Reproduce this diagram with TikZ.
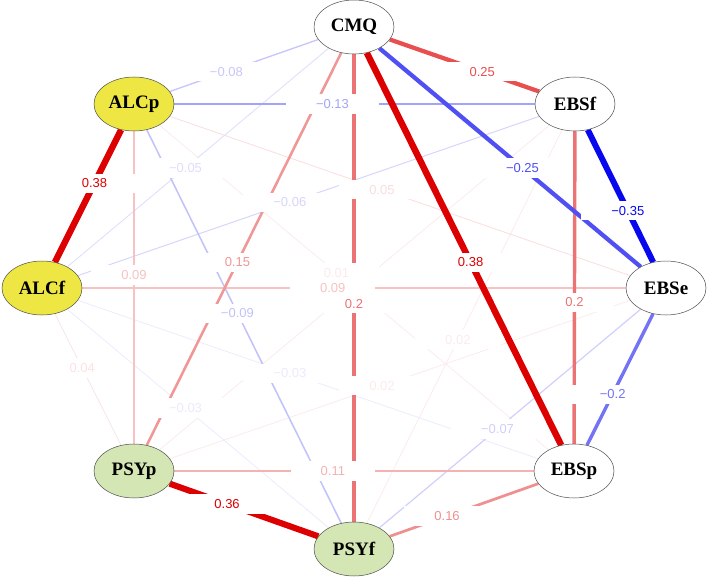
\documentclass[tikz,border=0pt]{standalone}
\usepackage{fontspec}
\setmainfont{Liberation Serif}
\newfontfamily\labfont{Liberation Sans}
\usepackage{xcolor}
\usepackage{tikz}
\usetikzlibrary{shapes.geometric,calc}

\definecolor{posred}{RGB}{221,0,0}
\definecolor{negblue}{RGB}{0,0,238}
\definecolor{alcyel}{RGB}{238,230,66}
\definecolor{psygreen}{RGB}{212,230,180}

\pgfdeclarelayer{bg}
\pgfsetlayers{bg,main}

\tikzset{
  var/.style={ellipse, draw=black!70, line width=0.5pt, fill=white,
    minimum width=80pt, minimum height=54pt, inner sep=0pt,
    font=\bfseries\fontsize{19}{19}\selectfont},
  alc/.style={var, fill=alcyel},
  psy/.style={var, fill=psygreen},
  wlab/.style={fill=white, inner xsep=30pt, inner ysep=5pt,
    font=\labfont\fontsize{13}{14}\selectfont}
}

% segno e intensita' del peso
\def\stripm-#1\relax{#1}
\newcommand{\wcol}[1]{%
  \ifdim #1pt<0pt \def\ecol{negblue}\else\def\ecol{posred}\fi
  \pgfmathsetmacro{\eabs}{abs(#1)}%
  \pgfmathtruncatemacro{\epct}{max(8,min(100,\eabs/0.36*100))}%
  \pgfmathsetmacro{\elw}{max(0.8,\eabs*17)}%
}
% arco senza etichetta
\newcommand{\edgonly}[3]{%
  \wcol{#3}%
  \begin{pgfonlayer}{bg}
    \draw[line width=\elw pt, \ecol!\epct!white] (#1) -- (#2);
  \end{pgfonlayer}
}
% arco con etichetta
\newcommand{\edg}[4]{%
  \edgonly{#1}{#2}{#3}%
  \node[wlab, text=\ecol!\epct!white] (l-#1-#2) at ($(#1.center)!#4!(#2.center)$)
    {\ifdim #3pt<0pt \char"2212\relax\stripm#3\relax\else #3\fi};
}

\begin{document}
\begin{tikzpicture}[x=1pt,y=-1pt]
\useasboundingbox (0,0) rectangle (708,577);
% Nodi
\node[var] (CMQ) at (354,27) {CMQ};
\node[var] (EBSf) at (575,104) {EBSf};
\node[var] (EBSe) at (666,288) {EBSe};
\node[var] (EBSp) at (574,471) {EBSp};
\node[psy] (PSYf) at (354,549) {PSYf};
\node[psy] (PSYp) at (134,471) {PSYp};
\node[alc] (ALCf) at (42,288) {ALCf};
\node[alc] (ALCp) at (134,104) {ALCp};

% Archi deboli
\edgonly{EBSf}{PSYp}{0.01}
\edg{EBSp}{ALCp}{0.01}{0.54}
\edg{EBSe}{PSYp}{0.02}{0.534}
\edg{EBSf}{PSYf}{0.02}{0.53}
\edg{PSYf}{ALCf}{-0.03}{0.54}
\edg{EBSp}{ALCf}{-0.03}{0.534}
\edg{PSYp}{ALCf}{0.04}{0.563}
\edg{EBSe}{ALCp}{0.05}{0.534}
\edg{CMQ}{ALCf}{-0.05}{0.54}
\edg{EBSf}{ALCf}{-0.06}{0.535}
\edg{EBSe}{PSYf}{-0.07}{0.54}
\edg{CMQ}{ALCp}{-0.08}{0.58}
\edg{EBSe}{ALCf}{0.09}{0.534}
\edg{PSYp}{ALCp}{0.09}{0.534}
\edg{PSYf}{ALCp}{-0.09}{0.53}
\edg{EBSp}{PSYp}{0.11}{0.548}
% Archi forti
\edg{EBSf}{ALCp}{-0.13}{0.55}
\edg{CMQ}{PSYp}{0.15}{0.53}
\edg{EBSp}{PSYf}{0.16}{0.577}
\edg{CMQ}{PSYf}{0.2}{0.53}
\edg{EBSf}{EBSp}{0.2}{0.54}
\edg{EBSe}{EBSp}{-0.2}{0.58}
\edg{CMQ}{EBSf}{0.25}{0.58}
\edg{CMQ}{EBSe}{-0.25}{0.54}
\edg{EBSf}{EBSe}{-0.35}{0.58}
\edg{PSYf}{PSYp}{0.36}{0.577}
\edg{CMQ}{EBSp}{0.38}{0.53}
\edg{ALCf}{ALCp}{0.38}{0.57}
\end{tikzpicture}
\end{document}
